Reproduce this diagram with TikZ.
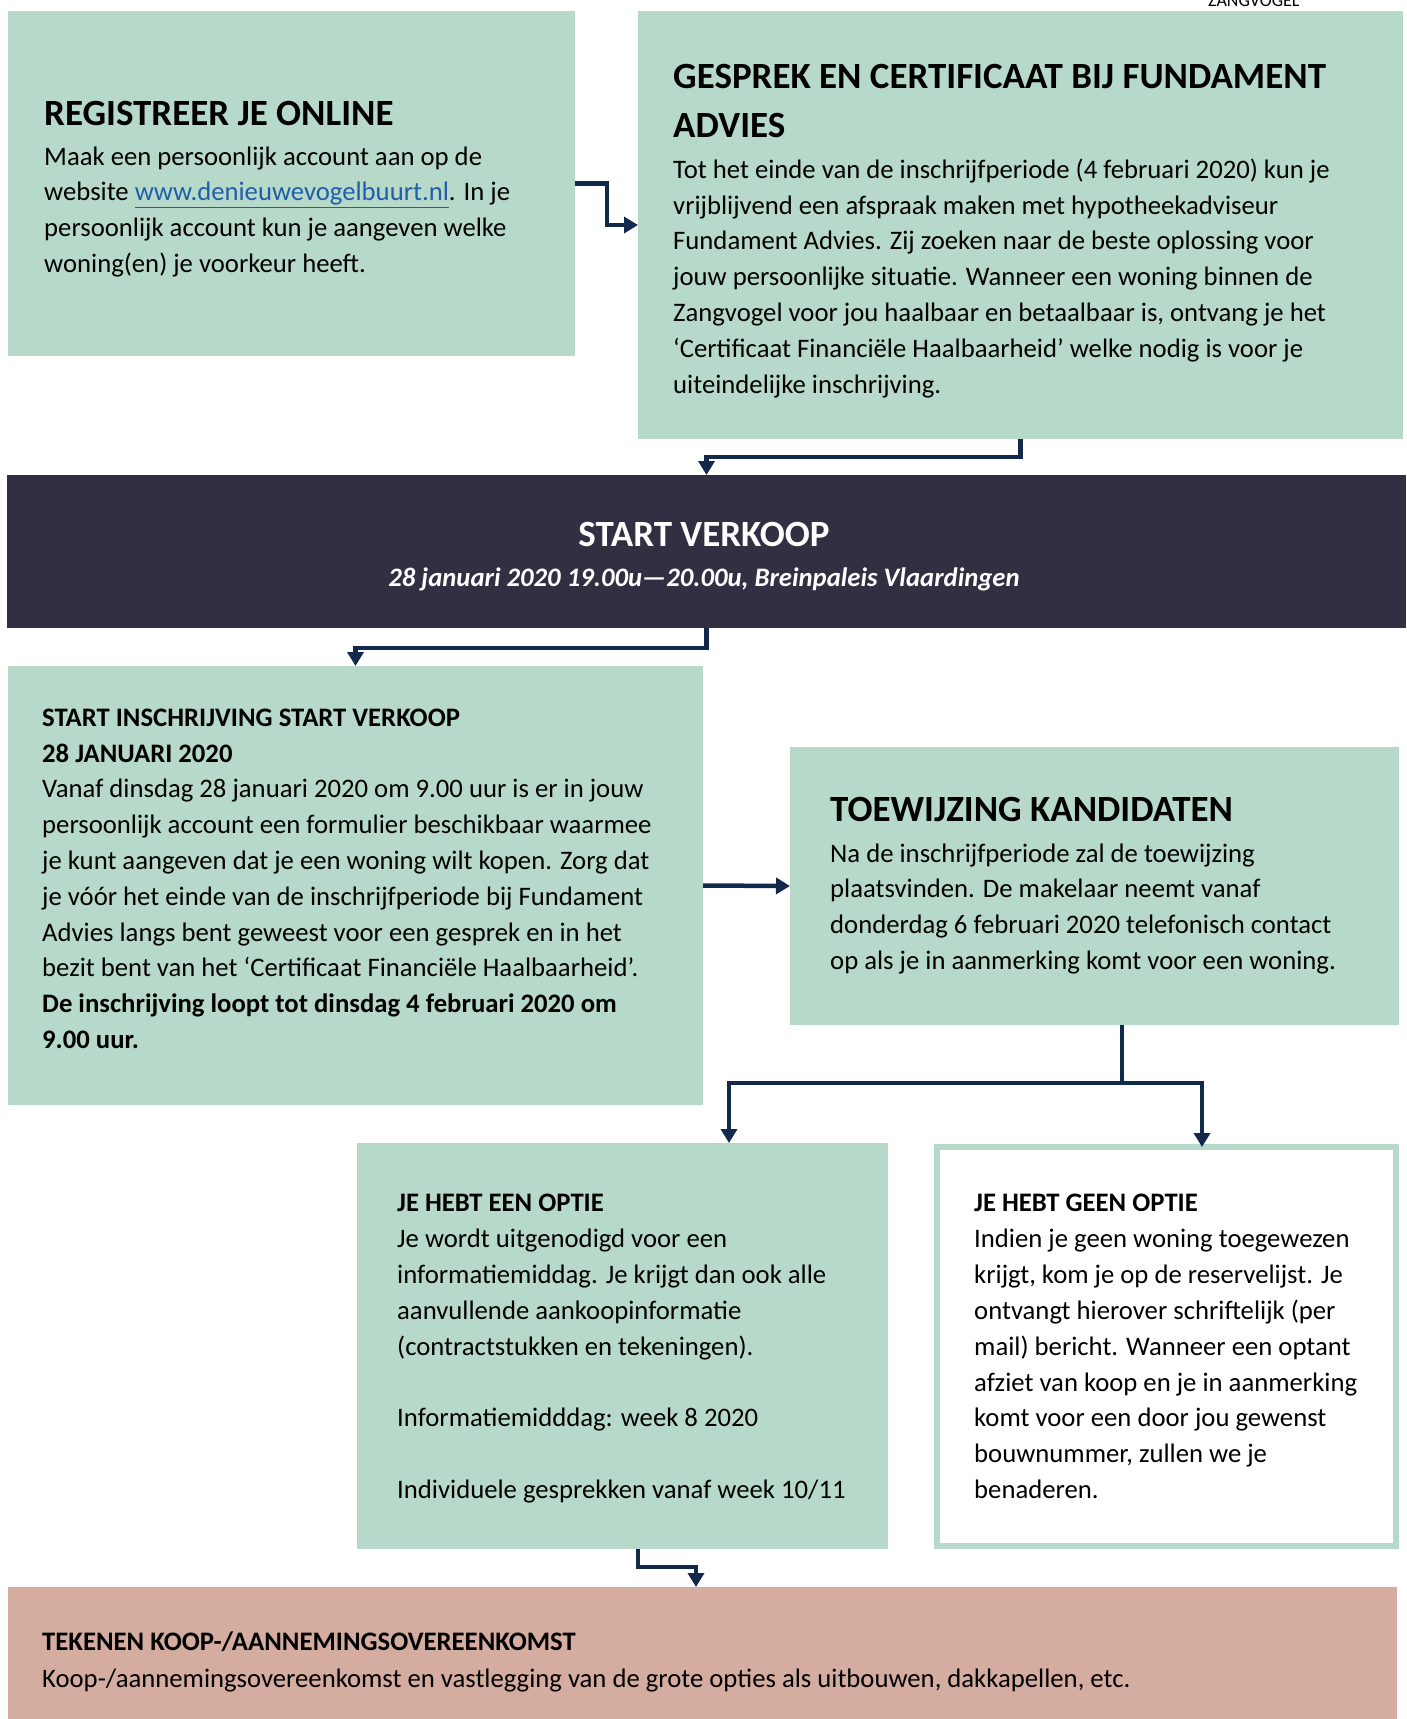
\documentclass[tikz,border=0pt]{standalone}
\usepackage{fontspec}
\setmainfont{Carlito}
\usetikzlibrary{arrows.meta}
\definecolor{mint}{HTML}{B7D9C9}
\definecolor{night}{HTML}{332F42}
\definecolor{rose}{HTML}{D4ACA0}
\definecolor{navy}{HTML}{13294B}
\definecolor{linkblue}{HTML}{1F5FA8}

\begin{document}
\begin{tikzpicture}[x=1pt,y=-1pt,
	greenbox/.style={fill=mint,inner sep=0pt,outer sep=0pt,anchor=north west},
	headtext/.style={anchor=base west,inner sep=0pt,align=left,font=\fontsize{37}{49}\selectfont\bfseries},
	subhead/.style={anchor=base west,inner sep=0pt,align=left,font=\fontsize{26.7}{35.8}\selectfont\bfseries},
	bodytext/.style={anchor=base west,inner sep=0pt,align=left,font=\fontsize{26.7}{35.8}\selectfont},
	wire/.style={draw=navy,line width=4.5pt},
	conn/.style={wire,-{Triangle[length=14pt,width=16pt]}}]
	\useasboundingbox (0,0) rectangle (1406,1719);

	\node[anchor=base west,inner sep=0pt,font=\fontsize{18}{18}\selectfont] (logo) at (1208,6) {ZANGVOGEL};

	\node[greenbox,minimum width=567pt,minimum height=345pt] (reg) at (8,11) {};
	\node[greenbox,minimum width=765pt,minimum height=428pt] (gesprek) at (638,11) {};
	\node[greenbox,fill=night,minimum width=1399pt,minimum height=153pt] (start) at (7,475) {};
	\node[greenbox,minimum width=695pt,minimum height=439pt] (inschr) at (8,666) {};
	\node[greenbox,minimum width=609pt,minimum height=278pt] (toew) at (790,747) {};
	\node[greenbox,minimum width=531pt,minimum height=406pt] (optie) at (357,1143) {};
	\node[greenbox,fill=white,draw=mint,line width=6pt,minimum width=459pt,minimum height=399pt] (geen) at (937,1147) {};
	\node[greenbox,fill=rose,minimum width=1389pt,minimum height=140pt] (tekenen) at (8,1587) {};

	\node[headtext] (regkop) at (44,125) {REGISTREER JE ONLINE};
	\node[bodytext] (regtekst) at (44,272.5) {Maak een persoonlijk account aan op de\\
		website \textcolor{linkblue}{\underline{www.denieuwevogelbuurt.nl}}. In je\\
		persoonlijk account kun je aangeven welke\\
		woning(en) je voorkeur heeft.};

	\node[headtext] (gesprekkop) at (673,137) {GESPREK EN CERTIFICAAT BIJ FUNDAMENT\\ADVIES};
	\node[bodytext] (gesprektekst) at (673,393) {Tot het einde van de inschrijfperiode (4 februari 2020) kun je\\
		vrijblijvend een afspraak maken met hypotheekadviseur\\
		Fundament Advies. Zij zoeken naar de beste oplossing voor\\
		jouw persoonlijke situatie. Wanneer een woning binnen de\\
		Zangvogel voor jou haalbaar en betaalbaar is, ontvang je het\\
		‘Certificaat Financiële Haalbaarheid’ welke nodig is voor je\\
		uiteindelijke inschrijving.};

	\node[headtext,anchor=base,text=white] (startkop) at (704,546) {START VERKOOP};
	\node[subhead,anchor=base,text=white,font=\fontsize{26.7}{35.8}\selectfont\bfseries\itshape] (startdatum) at (704,586) {28 januari 2020 19.00u—20.00u, Breinpaleis Vlaardingen};

	\node[subhead] (inschrkop) at (42,762) {START INSCHRIJVING START VERKOOP\\28 JANUARI 2020};
	\node[bodytext] (inschrtekst) at (42,1048.5) {Vanaf dinsdag 28 januari 2020 om 9.00 uur is er in jouw\\
		persoonlijk account een formulier beschikbaar waarmee\\
		je kunt aangeven dat je een woning wilt kopen. Zorg dat\\
		je vóór het einde van de inschrijfperiode bij Fundament\\
		Advies langs bent geweest voor een gesprek en in het\\
		bezit bent van het ‘Certificaat Financiële Haalbaarheid’.\\
		\textbf{De inschrijving loopt tot dinsdag 4 februari 2020 om}\\
		\textbf{9.00 uur.}};

	\node[headtext] (toewkop) at (830,821) {TOEWIJZING KANDIDATEN};
	\node[bodytext] (toewtekst) at (830,969.5) {Na de inschrijfperiode zal de toewijzing\\
		plaatsvinden. De makelaar neemt vanaf\\
		donderdag 6 februari 2020 telefonisch contact\\
		op als je in aanmerking komt voor een woning.};

	\node[subhead] (optiekop) at (397,1211) {JE HEBT EEN OPTIE};
	\node[bodytext] (optietekst) at (397,1498.5) {Je wordt uitgenodigd voor een\\
		informatiemiddag. Je krijgt dan ook alle\\
		aanvullende aankoopinformatie\\
		(contractstukken en tekeningen).\\[35.8pt]
		Informatiemidddag: week 8 2020\\[35.8pt]
		Individuele gesprekken vanaf week 10/11};

	\node[subhead] (geenkop) at (974,1211) {JE HEBT GEEN OPTIE};
	\node[bodytext] (geentekst) at (974,1498.5) {Indien je geen woning toegewezen\\
		krijgt, kom je op de reservelijst. Je\\
		ontvangt hierover schriftelijk (per\\
		mail) bericht. Wanneer een optant\\
		afziet van koop en je in aanmerking\\
		komt voor een door jou gewenst\\
		bouwnummer, zullen we je\\
		benaderen.};

	\node[subhead] (tekenenkop) at (42,1650) {TEKENEN KOOP-/AANNEMINGSOVEREENKOMST};
	\node[bodytext] (tekenentekst) at (42,1687) {Koop-/aannemingsovereenkomst en vastlegging van de grote opties als uitbouwen, dakkapellen, etc.};

	\draw[conn] (reg.east) -- ++(32,0) |- (gesprek.west);
	\draw[conn] (gesprek.south) -- ++(0,18) -| (start.north);
	\draw[conn] (start.south) -- ++(0,20) -| (inschr.north);
	\draw[conn] (inschr.east) -- (toew.west);
	\draw[wire] ([xshift=27.5pt]toew.south) -- (1122,1083) coordinate (split);
	\draw[conn] (split) -| ([xshift=106.5pt]optie.north);
	\draw[conn] (split) -| ([xshift=35.5pt]geen.north);
	\draw[conn] ([xshift=15.5pt]optie.south) -- ++(0,18) -| ([xshift=-6.5pt]tekenen.north);
\end{tikzpicture}
\end{document}
